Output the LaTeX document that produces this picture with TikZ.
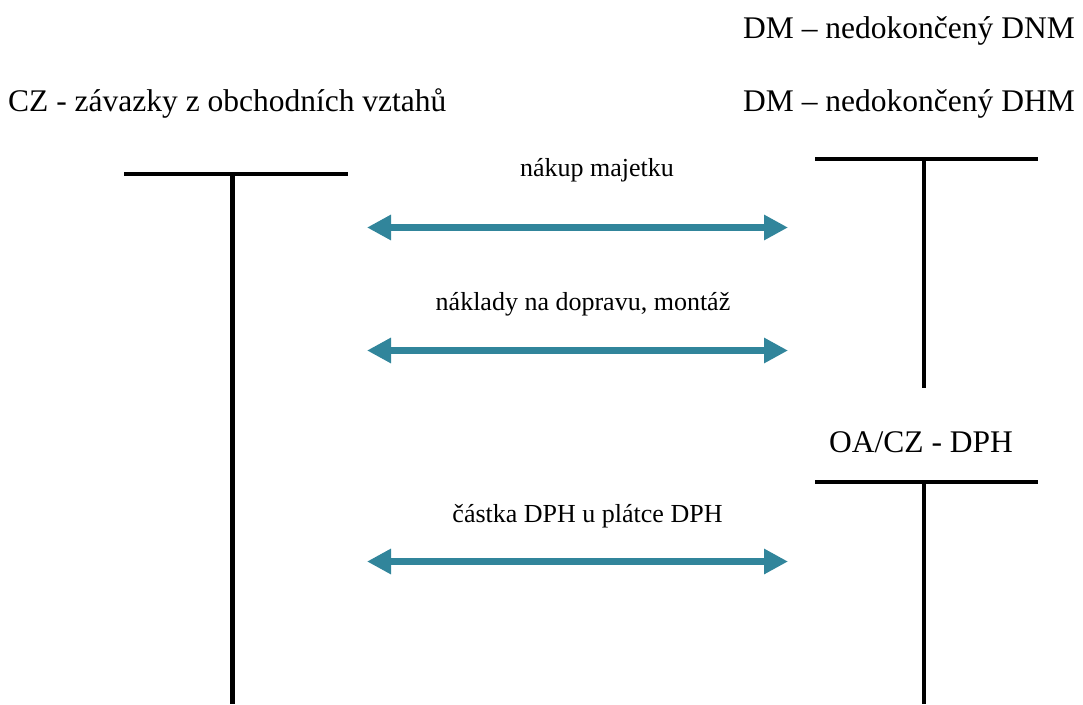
\documentclass[tikz,border=0pt]{standalone}
\usepackage{fontspec}
\setmainfont{Liberation Serif}
\usetikzlibrary{arrows.meta}
\definecolor{arrowteal}{RGB}{49,133,155}
\tikzset{
  big/.style={inner sep=0pt, font=\fontsize{31.5}{36}\selectfont},
  small/.style={inner sep=0pt, anchor=base, font=\fontsize{26}{30}\selectfont},
  acct/.style={line width=4.5pt, black},
  flow/.style={line width=7pt, arrowteal, {Triangle[length=24pt,width=24pt]}-{Triangle[length=24pt,width=24pt]}}
}
\begin{document}
\begin{tikzpicture}[x=1pt,y=-1pt]
\useasboundingbox (0,0) rectangle (1083,704);
% titles
\node[big, anchor=base east] (dnm) at (1075,38) {DM – nedokončený DNM};
\node[big, anchor=base east] (dhm) at (1075,111) {DM – nedokončený DHM};
\node[big, anchor=base west] (cz) at (8,111) {CZ - závazky z obchodních vztahů};
\node[big, anchor=base] (dph) at (921,452) {OA/CZ - DPH};
% left T account
\coordinate (l1) at (124,174);
\coordinate (l2) at (348,174);
\coordinate (lt) at (232.5,174);
\coordinate (lb) at (232.5,704);
\draw[acct] (l1) -- (l2);
\draw[acct] (lt) -- (lb);
% right upper T account
\coordinate (r1) at (815,159);
\coordinate (r2) at (1038,159);
\coordinate (rt) at (924,159);
\coordinate (rb) at (924,388);
\draw[acct] (r1) -- (r2);
\draw[acct] (rt) -- (rb);
% right lower T account
\coordinate (s1) at (815,482);
\coordinate (s2) at (1038,482);
\coordinate (st) at (924,482);
\coordinate (sb) at (924,704);
\draw[acct] (s1) -- (s2);
\draw[acct] (st) -- (sb);
% arrows
\coordinate (a1l) at (367,227.5);
\coordinate (a1r) at (788,227.5);
\coordinate (a2l) at (367,350.5);
\coordinate (a2r) at (788,350.5);
\coordinate (a3l) at (367,561.5);
\coordinate (a3r) at (788,561.5);
\draw[flow] (a1l) -- (a1r);
\draw[flow] (a2l) -- (a2r);
\draw[flow] (a3l) -- (a3r);
% labels
\node[small] (t1) at (597,176) {nákup majetku};
\node[small] (t2) at (583,310) {náklady na dopravu, montáž};
\node[small] (t3) at (587.5,522) {částka DPH u plátce DPH};
\end{tikzpicture}
\end{document}
